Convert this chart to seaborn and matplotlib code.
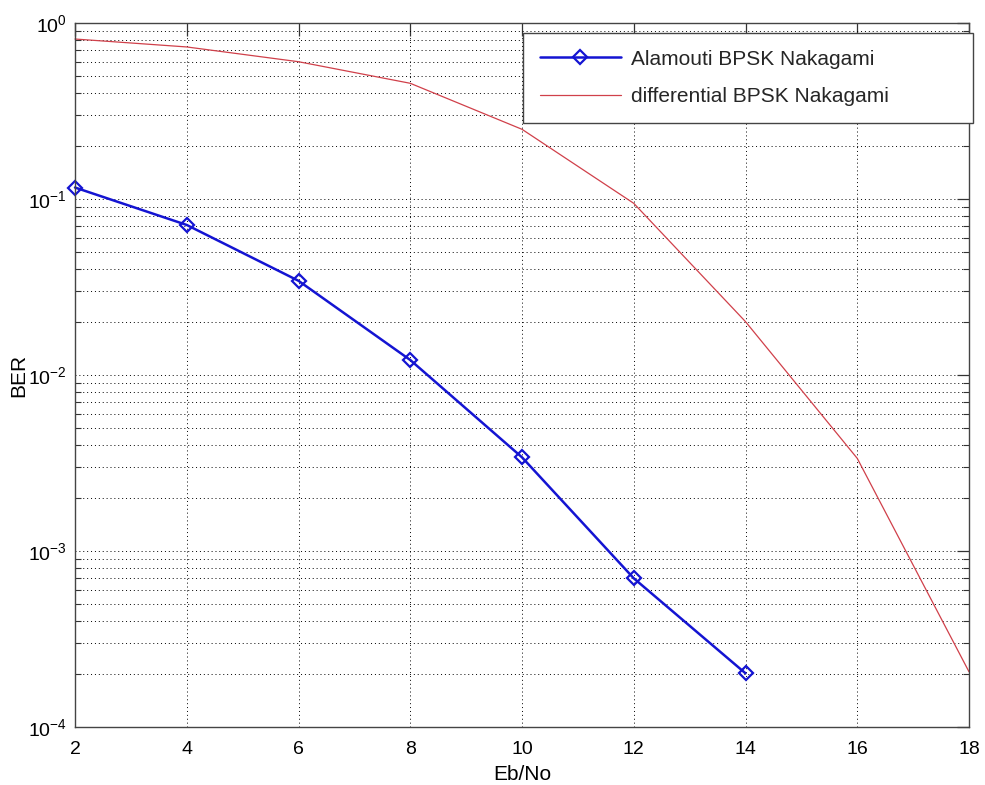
import numpy as np
import pandas as pd
import matplotlib
matplotlib.use("Agg")
import matplotlib.pyplot as plt
from matplotlib.ticker import LogLocator, LogFormatterSciNotation, NullFormatter
import seaborn as sns

# Eb/No grid (dB) and simulated bit error rates
ebno_alamouti = [2, 4, 6, 8, 10, 12, 14]
ber_alamouti = [0.1162, 0.0712, 0.0343, 0.01217, 0.003407, 0.0006998, 0.0002019]

ebno_diff = [2, 4, 6, 8, 10, 12, 14, 16, 18]
ber_diff = [0.811, 0.731, 0.6026, 0.4544, 0.2489, 0.0945, 0.0201, 0.00336, 0.000206]

label_alamouti = "Alamouti BPSK Nakagami"
label_diff = "differential BPSK Nakagami"
x_ticks = [2, 4, 6, 8, 10, 12, 14, 16, 18]

sns.set_theme(style="white")
plt.rcParams["font.family"] = ["Liberation Sans", "DejaVu Sans"]
plt.rcParams["mathtext.fontset"] = "custom"
plt.rcParams["mathtext.rm"] = "Liberation Sans"
plt.rcParams["mathtext.it"] = "Liberation Sans:italic"
plt.rcParams["mathtext.bf"] = "Liberation Sans:bold"
plt.rcParams["axes.unicode_minus"] = False

df_a = pd.DataFrame({"ebno": ebno_alamouti, "ber": ber_alamouti})
df_d = pd.DataFrame({"ebno": ebno_diff, "ber": ber_diff})

fig = plt.figure(figsize=(9.85, 7.85), dpi=100)
fig.patch.set_facecolor("white")
ax = fig.add_axes([75 / 985, 58 / 785, 894 / 985, 704 / 785])
ax.set_facecolor("white")

sns.lineplot(data=df_a, x="ebno", y="ber", ax=ax, color="#1414d2", linewidth=1.8,
             marker="D", markersize=7.5, markerfacecolor="none",
             markeredgecolor="#1414d2", markeredgewidth=1.6,
             label=label_alamouti, clip_on=False)
sns.lineplot(data=df_d, x="ebno", y="ber", ax=ax, color="#d0404a", linewidth=0.9,
             label=label_diff, clip_on=False)

ax.set_yscale("log")
ax.set_xlim(2, 18)
ax.set_ylim(1e-4, 1)
ax.set_xticks(x_ticks)
ax.set_xticklabels([str(v) for v in x_ticks])
ax.yaxis.set_major_locator(LogLocator(base=10, numticks=10))
ax.yaxis.set_major_formatter(LogFormatterSciNotation(base=10))
ax.yaxis.set_minor_locator(LogLocator(base=10, subs=np.arange(2, 10), numticks=50))
ax.yaxis.set_minor_formatter(NullFormatter())

ax.grid(True, which="major", axis="both", color="black", linestyle=(0, (1, 3)), linewidth=0.7)
ax.grid(True, which="minor", axis="y", color="black", linestyle=(0, (1, 3)), linewidth=0.7)

ax.tick_params(which="major", direction="in", length=9, width=0.9, color="#333333",
               top=True, right=True, labelsize=14, labelcolor="black")
ax.tick_params(axis="x", which="major", pad=10)
ax.tick_params(axis="y", which="major", pad=6)
ax.tick_params(which="minor", direction="in", length=4.5, width=0.8, color="#333333",
               top=False, right=True, left=True)
for s in ax.spines.values():
    s.set_visible(True)
    s.set_color("#444444")
    s.set_linewidth(1.0)

ax.set_xlabel("Eb/No", fontsize=15, labelpad=5, color="black")
ax.set_ylabel("BER", fontsize=15, color="black")
ax.yaxis.set_label_coords((28 - 75) / 894, 0.5)

leg = ax.legend(loc="upper left", bbox_to_anchor=(523 / 985, 1 - 120 / 785, 450 / 985, 87 / 785),
                bbox_transform=fig.transFigure, mode="expand", fontsize=15, frameon=True,
                fancybox=False, shadow=False, borderaxespad=0, handlelength=3.9,
                handletextpad=0.5, labelspacing=0.9, borderpad=0.8)
leg.get_frame().set_edgecolor("#444444")
leg.get_frame().set_linewidth(1.0)
leg.get_frame().set_facecolor("white")
leg.get_frame().set_alpha(1)

fig.savefig("out.png", dpi=100, facecolor="white")
